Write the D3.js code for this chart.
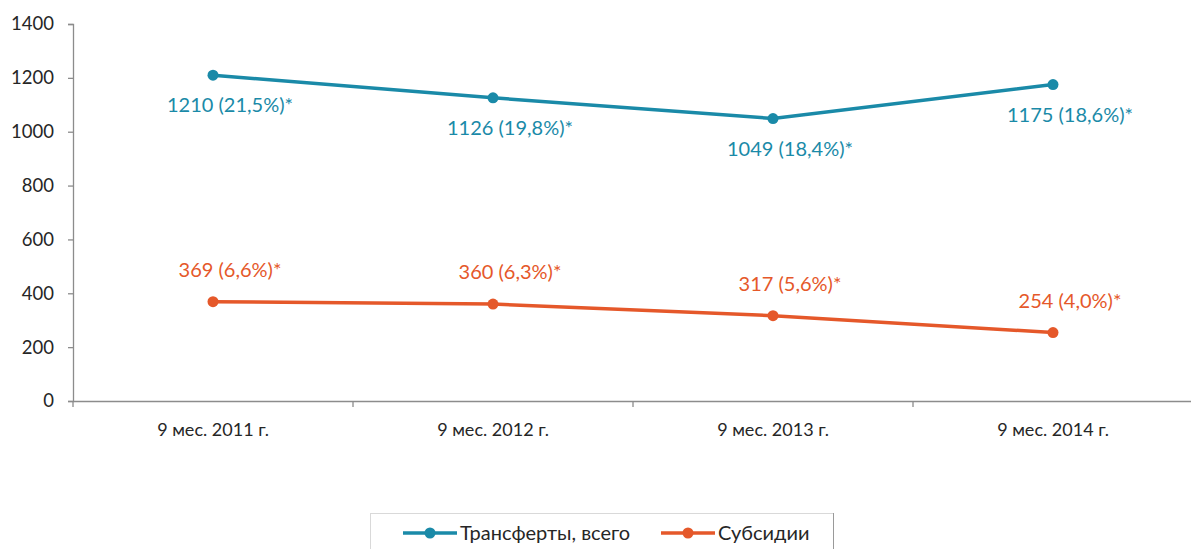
<!DOCTYPE html>
<html><head><meta charset="utf-8">
<script src="https://cdn.jsdelivr.net/npm/d3@7/dist/d3.min.js"></script>
<style>body{margin:0;background:#fff}svg{display:block}</style>
</head><body><svg id="c" width="1191" height="549"></svg>
<script>
const categories = ["9 мес. 2011 г.", "9 мес. 2012 г.", "9 мес. 2013 г.", "9 мес. 2014 г."];
const transfers = [1210, 1126, 1049, 1175];
const transferLabels = ["1210 (21,5%)*", "1126 (19,8%)*", "1049 (18,4%)*", "1175 (18,6%)*"];
const subsidies = [369, 360, 317, 254];
const subsidyLabels = ["369 (6,6%)*", "360 (6,3%)*", "317 (5,6%)*", "254 (4,0%)*"];
const yTicks = [0, 200, 400, 600, 800, 1000, 1200, 1400];
const seriesNames = ["Трансферты, всего", "Субсидии"];

const blue = "#1a8aa8", orange = "#e5582a";
const font = "Lato, 'Open Sans', sans-serif";
const svg = d3.select("#c");
const x = d3.scaleBand().domain(categories).range([73, 1193]);
const y = d3.scaleLinear().domain([0, 1400]).range([401, 24]);

// y axis
const ya = svg.append("g").attr("transform", "translate(73,0)")
  .call(d3.axisLeft(y).tickValues(yTicks).tickFormat(d3.format("d")).tickSize(5).tickPadding(14));
ya.select(".domain").attr("stroke", "#8c8c8c").attr("stroke-width", 1.3);
ya.selectAll(".tick line").attr("stroke", "#8c8c8c").attr("stroke-width", 1.3);
ya.selectAll("text").attr("font-family", font).attr("font-size", 18.5).attr("fill", "#262626");

// x axis
const xa = svg.append("g").attr("transform", "translate(0,401)")
  .call(d3.axisBottom(x).tickSize(0).tickPadding(22));
xa.select(".domain").attr("stroke", "#8c8c8c").attr("stroke-width", 1.3);
xa.selectAll("text").attr("font-family", font).attr("font-size", 18).attr("fill", "#262626");
const bounds = [...categories.map(c => x(c)), x.range()[1]];
svg.append("g").selectAll("line").data(bounds).join("line")
  .attr("x1", d => d).attr("x2", d => d).attr("y1", 401).attr("y2", 407)
  .attr("stroke", "#8c8c8c").attr("stroke-width", 1.3);

const cx = c => x(c) + x.bandwidth() / 2;
function series(vals, labels, color, dy) {
  const g = svg.append("g");
  g.append("path").datum(vals)
    .attr("d", d3.line().x((d, i) => cx(categories[i])).y(d => y(d)))
    .attr("fill", "none").attr("stroke", color).attr("stroke-width", 3.5);
  g.selectAll("circle").data(vals).join("circle")
    .attr("cx", (d, i) => cx(categories[i])).attr("cy", d => y(d)).attr("r", 5.5).attr("fill", color);
  g.selectAll("text").data(vals).join("text")
    .attr("x", (d, i) => cx(categories[i]) + 17).attr("y", d => y(d) + dy)
    .attr("text-anchor", "middle").attr("font-family", font).attr("font-size", 20)
    .attr("fill", color).text((d, i) => labels[i]);
}
series(transfers, transferLabels, blue, 37);
series(subsidies, subsidyLabels, orange, -25);

// legend
const lg = svg.append("g");
lg.append("rect").attr("x", 370.5).attr("y", 513.5).attr("width", 463).attr("height", 50)
  .attr("fill", "#fff").attr("stroke", "#d9d9d9");
lg.append("line").attr("x1", 833.5).attr("x2", 833.5).attr("y1", 513).attr("y2", 549).attr("stroke", "#9a9a9a");
const items = [{n: seriesNames[0], c: blue, x: 403}, {n: seriesNames[1], c: orange, x: 661}];
items.forEach(it => {
  lg.append("line").attr("x1", it.x).attr("x2", it.x + 54).attr("y1", 533).attr("y2", 533)
    .attr("stroke", it.c).attr("stroke-width", 3.5);
  lg.append("circle").attr("cx", it.x + 27).attr("cy", 533).attr("r", 5.5).attr("fill", it.c);
  lg.append("text").attr("x", it.x + 57).attr("y", 540).attr("font-family", font)
    .attr("font-size", 20).attr("fill", "#262626").text(it.n);
});
</script></body></html>
